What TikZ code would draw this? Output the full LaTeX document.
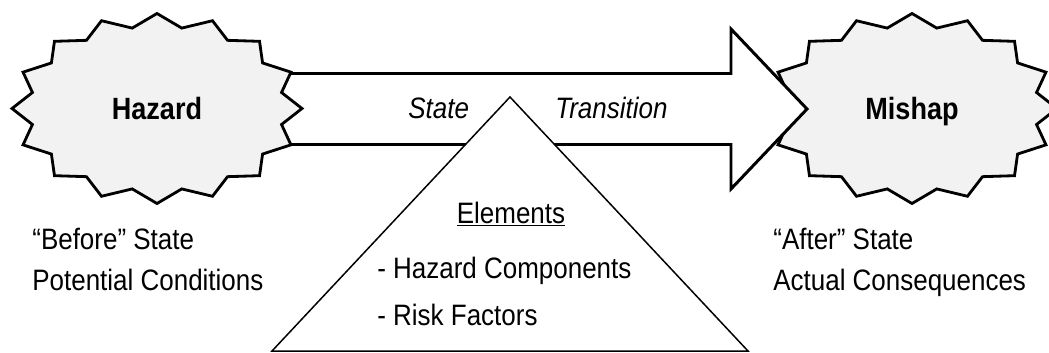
\documentclass[tikz,border=0pt]{standalone}
\usepackage{fontspec}
\setmainfont[FakeStretch=0.88]{Liberation Sans}
\usepackage{tikz}
\usetikzlibrary{positioning, calc}
\definecolor{burstgray}{rgb}{0.95,0.95,0.95}

\tikzset{
	burstline/.style={draw, line width=1.6pt, fill=burstgray},
	burstlabel/.style={inner sep=0pt, text depth=0pt, font=\fontsize{17.5}{20}\selectfont\bfseries},
	bigarrow/.style={draw, line width=1.7pt, fill=white, line join=miter},
	elemtri/.style={draw, line width=0.85pt, fill=white},
	txt/.style={font=\fontsize{16.8}{22.8}\selectfont, inner sep=0pt, align=left}
}

% 16 point star round a named coordinate
\newcommand{\burstoutline}[1]{%
	\draw[burstline] ($(#1)+(0:145 and 95)$)
	\foreach \i [evaluate=\i as \rx using {mod(\i,2)==0 ? 145 : 127},
	evaluate=\i as \ry using {mod(\i,2)==0 ? 95 : 82}] in {1,...,31}
	{ -- ($(#1)+({\i*11.25}:{\rx} and {\ry})$) } -- cycle;}

\begin{document}
\begin{tikzpicture}[x=0.02cm,y=-0.02cm]
	\useasboundingbox (0,0) rectangle (1049,352);
	\clip (0,0) rectangle (1049,352);
	\fill[white] (0,0) rectangle (1049,352);
	
	\coordinate(hazpos) at (157,108.5);
	\coordinate(mispos) at (912,108.5);
	
	%----------------------------------------------------------------
	\burstoutline{mispos}
	\node(mishap) [burstlabel] at (mispos) {Mishap};
	
	\coordinate(tip) at (807,109);
	\draw [bigarrow] ($(hazpos)+(0,-35)$) -- (731,73.5) -- (731,29) -- (tip)
	-- (731,189) -- (731,144.5) -- ($(hazpos)+(0,36)$) -- cycle;
	
	\burstoutline{hazpos}
	\node(hazard) [burstlabel] at (hazpos) {Hazard};
	
	%----------------------------------------------------------------
	\coordinate(apex) at (510,97);
	\draw [elemtri] (apex) -- (272,351) -- (748,351) -- cycle;
	
	\node(state) [txt, font=\fontsize{16.8}{22.8}\selectfont\itshape, anchor=base west] at (408,118) {State};
	\node(transition) [txt, font=\fontsize{16.8}{22.8}\selectfont\itshape, anchor=base west] at (555,118) {Transition};
	
	%----------------------------------------------------------------
	\node(elements) [txt, anchor=base] at (511,223) {\underline{Elements}};
	\node(components) [txt, anchor=base west] at (377,278) {- Hazard Components};
	\node(risk) [txt, below=0.38cm of components.south west, anchor=north west] {- Risk Factors};
	
	%----------------------------------------------------------------
	\node(before) [txt, anchor=base west] at (32,290) {“Before” State\\Potential Conditions};
	\node(after) [txt, anchor=base west] at (773,290) {“After” State\\Actual Consequences};
	
\end{tikzpicture}
\end{document}
